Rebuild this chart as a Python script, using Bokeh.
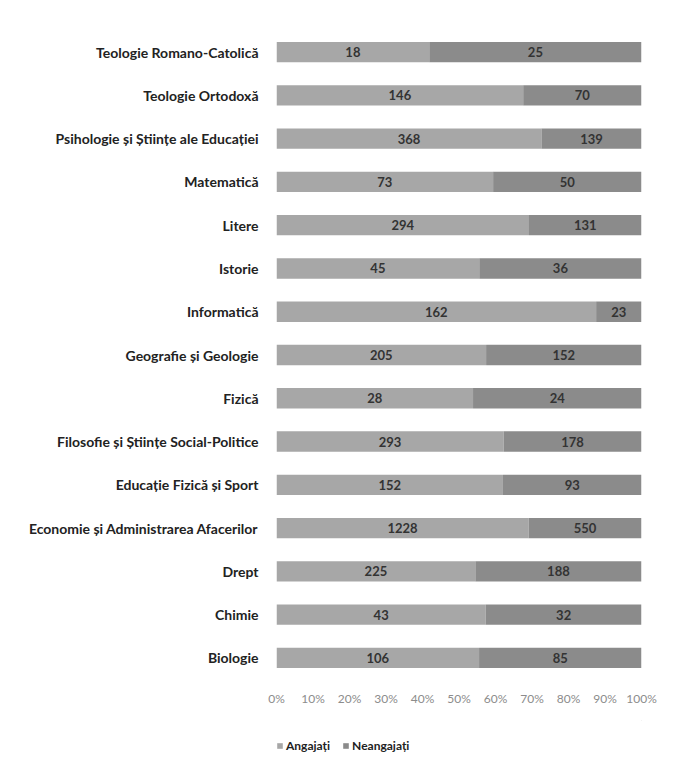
import numpy as np
from bokeh.plotting import figure
from bokeh.layouts import column
from bokeh.models import ColumnDataSource, FixedTicker, NumeralTickFormatter, Legend, LegendItem, Range1d
from bokeh.core.properties import value
from bokeh.embed import file_html
from bokeh.resources import INLINE

categories = [
    "Teologie Romano-Catolică",
    "Teologie Ortodoxă",
    "Psihologie și Științe ale Educației",
    "Matematică",
    "Litere",
    "Istorie",
    "Informatică",
    "Geografie și Geologie",
    "Fizică",
    "Filosofie și Științe Social-Politice",
    "Educație Fizică și Sport",
    "Economie și Administrarea Afacerilor",
    "Drept",
    "Chimie",
    "Biologie",
]
angajati = [18, 146, 368, 73, 294, 45, 162, 205, 28, 293, 152, 1228, 225, 43, 106]
neangajati = [25, 70, 139, 50, 131, 36, 23, 152, 24, 178, 93, 550, 188, 32, 85]
series_names = ["Angajați", "Neangajați"]
tick_values = [0, 0.1, 0.2, 0.3, 0.4, 0.5, 0.6, 0.7, 0.8, 0.9, 1.0]

a = np.array(angajati, dtype=float)
n = np.array(neangajati, dtype=float)
tot = a + n
pa = a / tot
pn = n / tot

src = ColumnDataSource(dict(
    cat=categories,
    a0=np.zeros(len(a)), a1=pa,
    n0=pa, n1=pa + pn,
    am=pa / 2, nm=pa + pn / 2,
    at=[str(v) for v in angajati],
    nt=[str(v) for v in neangajati],
))

FONT = "Lato"
C_A = "#a7a7a7"
C_N = "#8b8b8b"
factors = list(reversed(categories))

p = figure(width=658, height=720, y_range=factors, x_range=Range1d(0, 1),
           output_backend="svg", toolbar_location=None,
           min_border_left=276, min_border_right=17, min_border_top=30,
           min_border_bottom=41)
p.outline_line_color = None
p.background_fill_color = "white"
p.border_fill_color = "white"
p.y_range.range_padding = 0
p.y_range.factor_padding = 0

p.hbar(y="cat", left="a0", right="a1", height=0.47, source=src,
       fill_color=C_A, line_color=None)
p.hbar(y="cat", left="n0", right="n1", height=0.47, source=src,
       fill_color=C_N, line_color=None)

p.text(x="am", y="cat", text="at", source=src, text_align="center",
       text_baseline="middle", text_font=value(FONT), text_font_size="13px",
       text_font_style="bold", text_color="#333333")
p.text(x="nm", y="cat", text="nt", source=src, text_align="center",
       text_baseline="middle", text_font=value(FONT), text_font_size="13px",
       text_font_style="bold", text_color="#333333")

p.xgrid.grid_line_color = None
p.ygrid.grid_line_color = None

xa = p.xaxis[0]
xa.ticker = FixedTicker(ticks=tick_values)
xa.formatter = NumeralTickFormatter(format="0%")
xa.axis_line_color = None
xa.major_tick_line_color = None
xa.minor_tick_line_color = None
xa.major_label_text_font = FONT
xa.major_label_text_font_size = "12px"
xa.major_label_text_color = "#8c8c8c"
xa.major_label_standoff = 5

ya = p.yaxis[0]
ya.axis_line_color = None
ya.major_tick_line_color = None
ya.minor_tick_line_color = None
ya.major_label_text_font = FONT
ya.major_label_text_font_size = "14px"
ya.major_label_text_font_style = "bold"
ya.major_label_text_color = "#222222"
ya.major_label_standoff = 12

# legend figure (frame is aligned with the main plot's frame by the column)
lg = figure(width=658, height=33, x_range=Range1d(0, 1), y_range=Range1d(0, 1),
            output_backend="svg", toolbar_location=None,
            min_border_left=0, min_border_right=0, min_border_top=0,
            min_border_bottom=0)
lg.outline_line_color = None
lg.axis.visible = False
lg.grid.visible = False
lg.border_fill_color = "white"
offview = ColumnDataSource(dict(y=[50], left=[50], right=[51]))
la = lg.hbar(y="y", left="left", right="right", height=0.5, source=offview,
             fill_color=C_A, line_color=None)
ln = lg.hbar(y="y", left="left", right="right", height=0.5, source=offview,
             fill_color=C_N, line_color=None)
legend = Legend(items=[LegendItem(label=series_names[0], renderers=[la], index=0),
                       LegendItem(label=series_names[1], renderers=[ln], index=0)],
                orientation="horizontal", location=(0, 0),
                label_text_font=FONT, label_text_font_size="12px",
                label_text_font_style="bold", label_text_color="#222222",
                glyph_width=7, glyph_height=7, spacing=12, label_standoff=3,
                label_height=12, border_line_color=None,
                background_fill_alpha=0, margin=0, padding=0)
lg.add_layout(legend)

layout = column(p, lg, spacing=0)
open("out.html", "w").write(file_html(layout, INLINE))
